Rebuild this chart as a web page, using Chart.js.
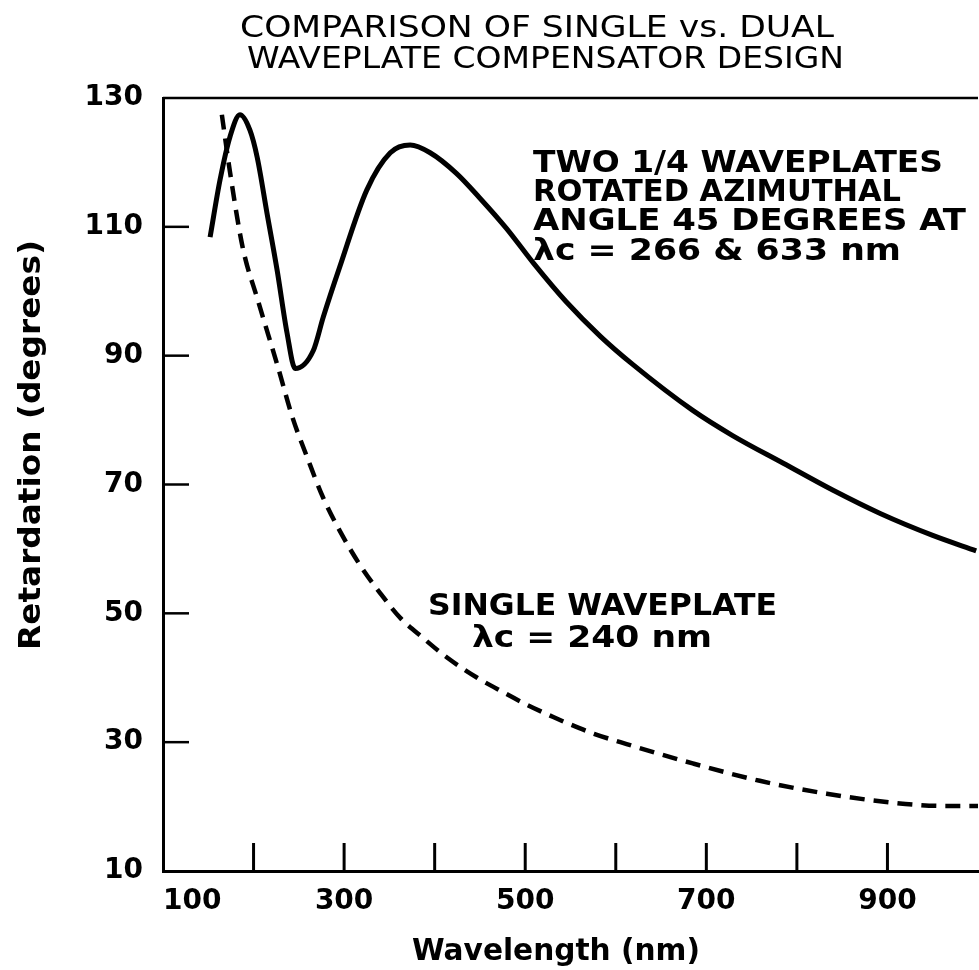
<!DOCTYPE html>
<html>
<head>
<meta charset="utf-8">
<script src="https://cdn.jsdelivr.net/npm/chart.js@4.4.0/dist/chart.umd.min.js"></script>
<style>
  html, body { margin: 0; padding: 0; background: #fff; overflow: hidden; }
  #wrap { width: 979px; height: 970px; position: relative; }
  #retChart { display: block; }
</style>
</head>
<body>
<div id="wrap"><canvas id="retChart"></canvas></div>
<script>
// dual waveplate (two 1/4 plates, 266 & 633 nm)
const dualWavelength = [152, 163, 174, 185, 196, 204, 215, 226, 237, 246, 266, 277, 295, 325, 351, 373, 395, 424, 449, 479, 510, 545, 583, 619, 685, 729, 785, 840, 892, 950, 998];
const dualRetardation = [108.4, 117.3, 124, 127.4, 125, 120.8, 112, 103.3, 93.5, 88, 90.8, 96, 103.7, 115.7, 121.5, 122.7, 121.5, 118.3, 114.6, 109.8, 104.2, 98.4, 93, 88.6, 81.5, 77.6, 73.3, 69.1, 65.5, 62.1, 59.7];

// single waveplate, 240 nm
const singleWavelength = [165, 174, 188, 205, 227, 243, 259, 277, 296, 318, 340, 362, 387, 414, 447, 475, 502, 531, 549, 576, 612, 685, 759, 833, 906, 961, 1000];
const singleRetardation = [127.4, 118.5, 106.8, 98.5, 88.2, 80.4, 74.3, 67.9, 62.6, 57.4, 53.1, 49.3, 46.2, 43.1, 40, 37.8, 35.8, 33.9, 32.8, 31.3, 29.7, 26.7, 24, 22, 20.6, 20.1, 20.1];

const xLabelValues = [100, 300, 500, 700, 900];
const xTickMarks = [200, 300, 400, 500, 600, 700, 800, 900];
const yTickMarks = [30, 50, 70, 90, 110];

const toPoints = (xs, ys) => xs.map((x, i) => ({ x: x, y: ys[i] }));

// draw text stretched horizontally to a given width
const fitText = (ctx, text, x, y, width, font) => {
    ctx.font = font;
    const w = ctx.measureText(text).width;
    ctx.save();
    ctx.translate(x, y);
    ctx.scale(width / w, 1);
    ctx.fillText(text, 0, 0);
    ctx.restore();
};

const decorations = {
    id: 'decorations',
    afterDraw(chart) {
        const ctx = chart.ctx;
        const area = chart.chartArea;
        const xs = chart.scales.x, ys = chart.scales.y;
        ctx.save();
        ctx.strokeStyle = '#000';
        ctx.fillStyle = '#000';
        ctx.lineCap = 'butt';

        // top frame line
        ctx.lineWidth = 2.5;
        ctx.beginPath();
        ctx.moveTo(area.left, area.top);
        ctx.lineTo(area.right, area.top);
        ctx.stroke();

        // inward ticks
        ctx.lineWidth = 3;
        xTickMarks.forEach(v => {
            const px = xs.getPixelForValue(v);
            ctx.beginPath();
            ctx.moveTo(px, area.bottom);
            ctx.lineTo(px, area.bottom - 28);
            ctx.stroke();
        });
        ctx.lineWidth = 2.5;
        yTickMarks.forEach(v => {
            const py = ys.getPixelForValue(v);
            ctx.beginPath();
            ctx.moveTo(area.left, py);
            ctx.lineTo(area.left + 26, py);
            ctx.stroke();
        });

        ctx.textAlign = 'left';
        ctx.textBaseline = 'alphabetic';

        // title
        fitText(ctx, 'COMPARISON OF SINGLE vs. DUAL', 240, 37, 594, '30px "DejaVu Sans"');
        fitText(ctx, 'WAVEPLATE COMPENSATOR DESIGN', 247, 68, 597, '30px "DejaVu Sans"');

        // curve notes
        const noteFont = 'bold 30px "DejaVu Sans"';
        fitText(ctx, 'TWO 1/4 WAVEPLATES', 533, 172, 410, noteFont);
        fitText(ctx, 'ROTATED AZIMUTHAL', 533, 201, 368, noteFont);
        fitText(ctx, 'ANGLE 45 DEGREES AT', 533, 230, 433, noteFont);
        fitText(ctx, 'λc = 266 & 633 nm', 533, 260, 368, noteFont);
        fitText(ctx, 'SINGLE WAVEPLATE', 428, 615, 349, noteFont);
        fitText(ctx, 'λc = 240 nm', 472, 647, 240, noteFont);

        // axis titles
        fitText(ctx, 'Wavelength (nm)', 412, 960, 288, 'bold 30px "DejaVu Sans"');
        ctx.save();
        ctx.translate(40, 650);
        ctx.rotate(-Math.PI / 2);
        fitText(ctx, 'Retardation (degrees)', 0, 0, 410, 'bold 30px "DejaVu Sans"');
        ctx.restore();

        ctx.restore();
    }
};

new Chart(document.getElementById('retChart'), {
    type: 'line',
    data: {
        datasets: [
            {
                label: 'Two 1/4 waveplates',
                data: toPoints(dualWavelength, dualRetardation),
                borderColor: '#000',
                borderWidth: 5,
                pointRadius: 0,
                cubicInterpolationMode: 'monotone',
                fill: false
            },
            {
                label: 'Single waveplate',
                data: toPoints(singleWavelength, singleRetardation),
                borderColor: '#000',
                borderWidth: 4.5,
                borderDash: [15, 9],
                pointRadius: 0,
                cubicInterpolationMode: 'monotone',
                fill: false
            }
        ]
    },
    options: {
        responsive: true,
        maintainAspectRatio: false,
        animation: false,
        layout: { padding: { top: 98, right: 1, left: 0, bottom: 0 } },
        plugins: {
            legend: { display: false },
            tooltip: { enabled: false },
            title: { display: false }
        },
        scales: {
            x: {
                type: 'linear',
                min: 100,
                max: 1000,
                afterFit: scale => {
                    scale.height = 99;
                    scale.paddingLeft = 0;
                    scale.paddingRight = 0;
                },
                grid: { display: false, drawTicks: false },
                border: { display: true, color: '#000', width: 3 },
                ticks: {
                    stepSize: 100,
                    autoSkip: false,
                    maxRotation: 0,
                    align: 'inner',
                    padding: 14,
                    color: '#000',
                    font: { family: '"DejaVu Sans"', size: 28, weight: 'bold' },
                    callback: v => xLabelValues.includes(v) ? String(v) : ''
                }
            },
            y: {
                min: 10,
                max: 130,
                afterFit: scale => { scale.width = 163; },
                grid: { display: false, drawTicks: false },
                border: { display: true, color: '#000', width: 3 },
                ticks: {
                    stepSize: 20,
                    padding: 20,
                    color: '#000',
                    font: { family: '"DejaVu Sans"', size: 28, weight: 'bold' }
                }
            }
        }
    },
    plugins: [decorations]
});
</script>
</body>
</html>
